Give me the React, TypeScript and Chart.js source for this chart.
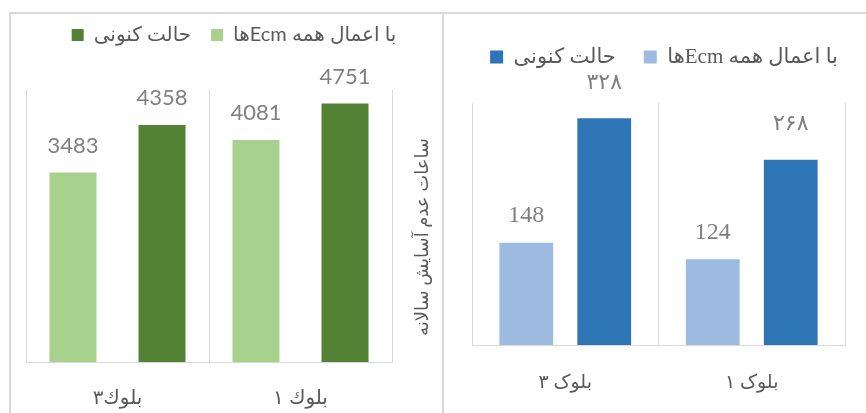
import { useEffect, useRef } from 'react';
import { Chart, registerables } from 'chart.js';

Chart.register(...registerables);

// ---------- data ----------
const leftCategories = ['بلوك۳', 'بلوك ۱'];
const leftSeriesNames = ['با اعمال همه Ecmها', 'حالت کنونی'];
const leftWithEcm = [3483, 4081];
const leftCurrent = [4358, 4751];
const leftAxisTitle = 'ساعات عدم آسایش سالانه';
const leftYMax = 5000;

const rightCategories = ['بلوک ۳', 'بلوک ۱'];
const rightSeriesNames = ['با اعمال همه Ecmها', 'حالت کنونی'];
const rightWithEcm = [148, 124];
const rightCurrent = [328, 268];
const rightYMax = 350;

// ---------- styles ----------
const LEFT_FONT = "Lato, 'DejaVu Sans', sans-serif";
const RIGHT_FONT = "'Liberation Serif', 'DejaVu Sans', serif";
const GRID = '#D9D9D9';
const TEXT = '#595959';
const VALUE = '#808080';

const toPersianDigits = (s: string) => s.replace(/[0-9]/g, (d) => '۰۱۲۳۴۵۶۷۸۹'[Number(d)]);

function valueLabels(opts: { font: string[]; offsets: number[]; format: (v: number, ds: number) => string }) {
  return {
    id: 'valueLabels',
    afterDatasetsDraw(chart: any) {
      const ctx = chart.ctx;
      chart.data.datasets.forEach((ds: any, di: number) => {
        const meta = chart.getDatasetMeta(di);
        meta.data.forEach((bar: any, i: number) => {
          ctx.save();
          ctx.font = opts.font[di];
          ctx.fillStyle = VALUE;
          ctx.textAlign = 'center';
          ctx.textBaseline = 'middle';
          ctx.fillText(opts.format(ds.data[i], di), bar.x, bar.y - opts.offsets[di]);
          ctx.restore();
        });
      });
    },
  };
}

const yTitlePlugin = {
  id: 'yTitle',
  afterDraw(chart: any) {
    const ctx = chart.ctx;
    const area = chart.chartArea;
    ctx.save();
    ctx.translate(chart.scales.y.left + 30, (area.top + area.bottom) / 2 + 11);
    ctx.rotate(-Math.PI / 2);
    ctx.textAlign = 'center';
    ctx.textBaseline = 'middle';
    ctx.fillStyle = TEXT;
    ctx.font = `18px ${LEFT_FONT}`;
    ctx.fillText(leftAxisTitle, 0, 0);
    ctx.restore();
  },
};

function LeftChart() {
  const ref = useRef<HTMLCanvasElement>(null);
  useEffect(() => {
    const chart = new Chart(ref.current!, {
      type: 'bar',
      data: {
        labels: leftCategories,
        datasets: [
          { label: leftSeriesNames[0], data: leftWithEcm, backgroundColor: '#A9D18E', categoryPercentage: 0.973, barPercentage: 0.528 },
          { label: leftSeriesNames[1], data: leftCurrent, backgroundColor: '#548235', categoryPercentage: 0.973, barPercentage: 0.528 },
        ],
      },
      options: {
        responsive: false,
        animation: false,
        layout: { padding: { top: -9, left: 15, right: 0, bottom: 0 } },
        plugins: {
          legend: {
            position: 'top',
            reverse: true,
            labels: { boxWidth: 12, boxHeight: 12, padding: 20, color: TEXT, font: { family: LEFT_FONT, size: 20 } },
          },
          title: { display: true, text: ' ', weight: 500, padding: { top: 0, bottom: 23 }, font: { size: 10 } } as any,
          tooltip: { enabled: false },
        },
        scales: {
          x: {
            grid: { offset: true, color: GRID, drawTicks: false },
            border: { color: GRID },
            ticks: { color: TEXT, padding: 24, font: { family: LEFT_FONT, size: 20 } },
            afterFit: (s: any) => { s.height = 51; },
          },
          y: {
            position: 'right',
            min: 0,
            max: leftYMax,
            ticks: { display: false },
            grid: { display: false },
            border: { display: false },
            afterFit: (s: any) => { s.width = 50; },
          },
        },
      } as any,
      plugins: [
        valueLabels({ font: [`22px ${LEFT_FONT}`, `22px ${LEFT_FONT}`], offsets: [27, 27], format: (v) => String(v) }),
        yTitlePlugin,
      ],
    });
    return () => chart.destroy();
  }, []);
  return (
    <canvas
      ref={ref}
      dir="rtl"
      width={431}
      height={399}
      style={{ position: 'absolute', left: 11, top: 14, width: 431, height: 399, display: 'block' }}
    />
  );
}

function RightChart() {
  const ref = useRef<HTMLCanvasElement>(null);
  useEffect(() => {
    const chart = new Chart(ref.current!, {
      type: 'bar',
      data: {
        labels: rightCategories,
        datasets: [
          { label: rightSeriesNames[0], data: rightWithEcm, backgroundColor: '#9DBBE1', categoryPercentage: 0.836, barPercentage: 0.69 },
          { label: rightSeriesNames[1], data: rightCurrent, backgroundColor: '#2E75B6', categoryPercentage: 0.836, barPercentage: 0.69 },
        ],
      },
      options: {
        responsive: false,
        animation: false,
        layout: { padding: { top: 4.5, left: 18, right: 0, bottom: 0 } },
        plugins: {
          legend: {
            position: 'top',
            reverse: true,
            labels: { boxWidth: 13, boxHeight: 13, padding: 28, color: TEXT, font: { family: RIGHT_FONT, size: 21 } },
          },
          title: { display: true, text: ' ', weight: 500, padding: { top: 0, bottom: 13.5 }, font: { size: 10 } } as any,
          tooltip: { enabled: false },
        },
        scales: {
          x: {
            grid: { offset: true, color: GRID, drawTicks: false },
            border: { color: GRID },
            ticks: { color: TEXT, padding: 27, font: { family: RIGHT_FONT, size: 19 } },
            afterFit: (s: any) => { s.height = 68; },
          },
          y: {
            position: 'left',
            min: 0,
            max: rightYMax,
            ticks: { display: false },
            grid: { display: false },
            border: { display: false },
            afterFit: (s: any) => { s.width = 10; },
          },
          y2: {
            position: 'right',
            ticks: { display: false },
            grid: { display: false },
            border: { display: false },
            afterFit: (s: any) => { s.width = 21; },
          },
        },
      } as any,
      plugins: [
        valueLabels({
          font: [`24px ${RIGHT_FONT}`, `22px ${RIGHT_FONT}`],
          offsets: [27, 35],
          format: (v, ds) => (ds === 1 ? toPersianDigits(String(v)) : String(v)),
        }),
      ],
    });
    return () => chart.destroy();
  }, []);
  return (
    <canvas
      ref={ref}
      dir="rtl"
      width={422}
      height={399}
      style={{ position: 'absolute', left: 444, top: 14, width: 422, height: 399, display: 'block' }}
    />
  );
}

export default function App() {
  return (
    <div>
      <div
        style={{
          position: 'absolute',
          left: 9,
          top: 12,
          width: 857,
          height: 401,
          boxSizing: 'border-box',
          borderTop: `2px solid ${GRID}`,
          borderLeft: `2px solid ${GRID}`,
        }}
      />
      <div style={{ position: 'absolute', left: 442, top: 12, width: 2, height: 401, background: GRID }} />
      <LeftChart />
      <RightChart />
    </div>
  );
}
